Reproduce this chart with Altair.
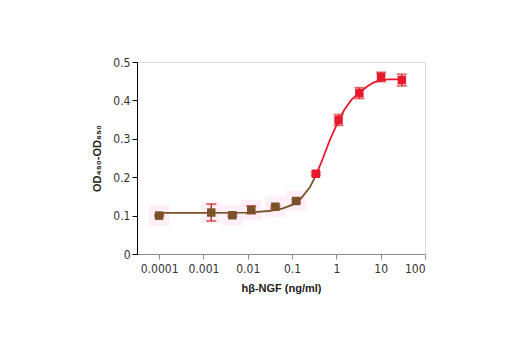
import altair as alt
import pandas as pd

# measured points
conc = [0.0001, 0.0015, 0.0045, 0.012, 0.042, 0.124, 0.344, 1.12, 3.3, 10.2, 30]
od = [0.100, 0.108, 0.101, 0.115, 0.123, 0.138, 0.209, 0.349, 0.419, 0.461, 0.453]
err = [0.002, 0.022, 0.003, 0.010, 0.003, 0.004, 0.004, 0.014, 0.014, 0.012, 0.015]
group = ["low", "low", "low", "low", "low", "low", "high", "high", "high", "high", "high"]

# fitted curve
curve_x = [0.0001, 0.001, 0.01, 0.03, 0.06, 0.1, 0.16, 0.25, 0.344,
           0.5, 0.7, 1.0, 1.5, 2.2, 3.3, 5, 7, 10, 15, 20, 30]
curve_y = [0.107, 0.107, 0.108, 0.112, 0.118, 0.128, 0.145, 0.173, 0.205,
           0.250, 0.295, 0.335, 0.375, 0.402, 0.420, 0.437, 0.447, 0.452, 0.455, 0.455, 0.455]

x_ticks = [0.0001, 0.001, 0.01, 0.1, 1, 10, 100]
y_ticks = [0, 0.1, 0.2, 0.3, 0.4, 0.5]

pts = pd.DataFrame({"x": conc, "y": od, "lo": [a - b for a, b in zip(od, err)],
                    "hi": [a + b for a, b in zip(od, err)], "g": group})
cur = pd.DataFrame({"x": curve_x, "y": curve_y,
                    "g": ["low" if v <= 0.344 else "high" for v in curve_x]})
cur = pd.concat([cur, pd.DataFrame({"x": [0.344], "y": [0.205], "g": ["high"]})])

xs = alt.Scale(type="log", domain=[10 ** -4.5, 100], nice=False)
ys = alt.Scale(domain=[0, 0.5], nice=False)
cs = alt.Scale(domain=["low", "high"], range=["#7a5228", "#e8192c"])

font = "DejaVu Sans Condensed"
xax = alt.Axis(values=x_ticks, format="~g", grid=False, title="hβ-NGF (ng/ml)",
               domainColor="#8c8c8c", tickColor="#8c8c8c", tickSize=5, labelColor="#333333",
               labelFontSize=12, labelFont=font, titleFont="Liberation Sans", titleFontSize=11,
               titleFontWeight="bold", titleColor="#222222", titlePadding=8, labelPadding=4,
               labelOverlap=False)
yax = alt.Axis(values=y_ticks, format="~g", grid=False,
               title="OD₄₅₀-OD₆₅₀", domainColor="#000000", tickColor="#000000", tickSize=5,
               labelColor="#333333", labelFontSize=12, labelFont=font, titleFont="Liberation Sans",
               titleFontSize=11, titleFontWeight="bold", titleColor="#222222", titlePadding=10,
               labelOverlap=False, tickCount=6)


def X():
    return alt.X("x:Q", scale=xs, axis=xax)


def Y(f="y"):
    return alt.Y(f + ":Q", scale=ys, axis=yax)


halo = alt.Chart(pts[pts.g == "low"]).mark_square(size=420, color="#fdeaf6", opacity=0.8).encode(
    x=X(), y=Y())

line = alt.Chart(cur).mark_line(strokeWidth=1.8).encode(
    x=X(), y=Y(), color=alt.Color("g:N", scale=cs, legend=None), detail="g:N")

bars = alt.Chart(pts).mark_rule(strokeWidth=1.5, color="#d42a2a").encode(
    x=X(), y=Y("lo"), y2="hi:Q")
capl = alt.Chart(pts).mark_tick(size=10, thickness=1.8, orient="horizontal", color="#d42a2a").encode(
    x=X(), y=Y("lo"))
caph = alt.Chart(pts).mark_tick(size=10, thickness=1.8, orient="horizontal", color="#d42a2a").encode(
    x=X(), y=Y("hi"))

points = alt.Chart(pts).mark_square(size=72, opacity=1).encode(
    x=X(), y=Y(), color=alt.Color("g:N", scale=cs, legend=None))

chart = alt.layer(halo, line, bars, capl, caph, points).properties(
    width=288, height=192, autosize=alt.AutoSizeParams(type="none"),
    padding={"left": 137, "top": 62, "right": 95, "bottom": 96}
).configure_view(stroke=None).configure(background="white")

chart.save("out.html", embed_options={"renderer": "svg", "actions": False})
